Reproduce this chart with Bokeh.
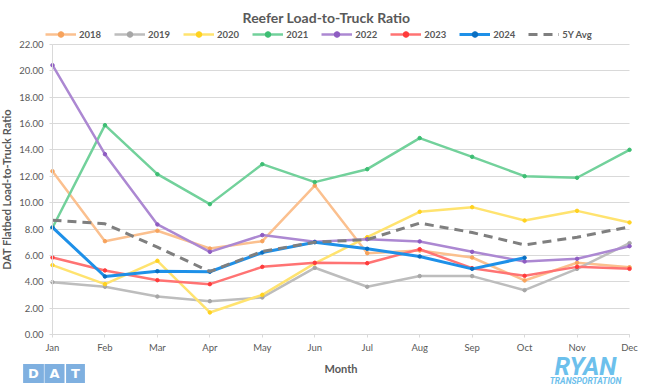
from bokeh.plotting import figure
from bokeh.models import (Range1d, FixedTicker, NumeralTickFormatter, Legend, LegendItem, Label)
from bokeh.embed import file_html
from bokeh.resources import INLINE

months = ["Jan", "Feb", "Mar", "Apr", "May", "Jun", "Jul", "Aug", "Sep", "Oct", "Nov", "Dec"]
y_ticks = [0, 2, 4, 6, 8, 10, 12, 14, 16, 18, 20, 22]

r2018 = [12.39, 7.08, 7.87, 6.52, 7.08, 11.30, 6.17, 6.37, 5.84, 4.10, 5.44, 5.10]
r2019 = [3.97, 3.62, 2.88, 2.53, 2.81, 5.06, 3.62, 4.43, 4.43, 3.36, 4.98, 6.93]
r2020 = [5.26, 3.82, 5.59, 1.67, 3.01, 5.40, 7.38, 9.31, 9.66, 8.65, 9.38, 8.50]
r2021 = [8.10, 15.88, 12.16, 9.89, 12.92, 11.56, 12.54, 14.90, 13.48, 12.01, 11.89, 14.01]
r2022 = [20.43, 13.68, 8.35, 6.27, 7.54, 7.03, 7.23, 7.06, 6.27, 5.54, 5.74, 6.70]
r2023 = [5.84, 4.86, 4.12, 3.82, 5.13, 5.44, 5.41, 6.47, 5.03, 4.45, 5.13, 4.98]
r2024 = [8.12, 4.40, 4.80, 4.76, 6.22, 7.00, 6.50, 5.92, 4.98, 5.82]
avg5y = [8.67, 8.40, 6.62, 4.78, 6.30, 7.00, 7.20, 8.45, 7.74, 6.80, 7.38, 8.17]

series = [
    ("2018", r2018, "#FBC08F", "#F7A35C"),
    ("2019", r2019, "#BDBDBD", "#A6A6A6"),
    ("2020", r2020, "#FFE36F", "#FFD21F"),
    ("2021", r2021, "#72D19B", "#3DBE73"),
    ("2022", r2022, "#AC88D2", "#8E5CC2"),
    ("2023", r2023, "#FF7373", "#FF3B3B"),
]

FONT = "Lato"
TXT = "#595959"

# frame covers the whole figure; axes are pinned at x=0 / y=0
p = figure(width=650, height=390, output_backend="svg", toolbar_location=None,
           x_range=Range1d(-0.991, 11.40), y_range=Range1d(-4.249, 25.338),
           min_border_left=0, min_border_right=0, min_border_top=0, min_border_bottom=0,
           background_fill_color="white", border_fill_color="white")
p.outline_line_color = None
p.xgrid.grid_line_color = None
p.ygrid.grid_line_color = "#D9D9D9"
p.ygrid.ticker = FixedTicker(ticks=y_ticks)
p.ygrid.cross_bounds = (0, 11)

p.xaxis.fixed_location = 0
p.yaxis.fixed_location = 0
p.xaxis.bounds = (0, 11)
p.yaxis.bounds = (0, 22)

p.yaxis.ticker = FixedTicker(ticks=y_ticks)
p.yaxis.formatter = NumeralTickFormatter(format="0.00")
p.xaxis.ticker = FixedTicker(ticks=list(range(12)))
p.xaxis.major_label_overrides = {i: m for i, m in enumerate(months)}

for ax in (p.xaxis[0], p.yaxis[0]):
    ax.axis_line_color = "#D9D9D9"
    ax.major_tick_line_color = "#D9D9D9"
    ax.minor_tick_line_color = None
    ax.major_tick_in = 0
    ax.major_tick_out = 3
    ax.major_label_text_font = FONT
    ax.major_label_text_font_size = "9.5px"
    ax.major_label_text_color = TXT
    ax.axis_label_text_font = FONT
    ax.axis_label_text_font_style = "bold"
    ax.axis_label_text_color = TXT
    ax.axis_label_text_font_size = "11px"

p.xaxis.axis_label = "Month"
p.xaxis.major_label_standoff = 5
p.xaxis.axis_label_standoff = 5
p.yaxis.axis_label = "DAT Flatbed Load-to-Truck Ratio"
p.yaxis.major_label_standoff = 6
p.yaxis.axis_label_standoff = 3

items = []
for name, vals, lc, mc in series:
    xs = list(range(len(vals)))
    r = p.line(xs, vals, line_color=lc, line_width=2.5)
    s = p.scatter(xs, vals, marker="circle", size=3.5, fill_color=mc, line_color=mc)
    items.append(LegendItem(label=name, renderers=[r, s]))

xs24 = list(range(len(r2024)))
r = p.line(xs24, r2024, line_color="#1E90E8", line_width=3)
s = p.scatter(xs24, r2024, marker="circle", size=3.5, fill_color="#0A6FC2", line_color="#0A6FC2")
items.append(LegendItem(label="2024", renderers=[r, s]))

ra = p.line(list(range(12)), avg5y, line_color="#7F7F7F", line_width=3, line_dash="9 6")
items.append(LegendItem(label="5Y Avg", renderers=[ra]))

legend = Legend(items=items, orientation="horizontal", location=(45, 349),
                glyph_width=31, glyph_height=14, label_standoff=3, spacing=13,
                padding=0, margin=0, border_line_color=None, background_fill_alpha=0,
                label_text_font=FONT, label_text_font_size="9.5px", label_height=14,
                label_text_font_style="bold", label_text_color=TXT)
p.add_layout(legend)

p.add_layout(Label(x=326, y=373, x_units="screen", y_units="screen",
                   text="Reefer Load-to-Truck Ratio", text_align="center", text_baseline="middle",
                   text_font=FONT, text_font_size="14px", text_font_style="bold", text_color=TXT))

# DAT logo
for i, ch in enumerate("DAT"):
    p.add_layout(Label(x=33 + 21 * i, y=17, x_units="screen", y_units="screen",
                       text=ch, text_align="center", text_baseline="middle",
                       text_font="DejaVu Sans", text_font_size="13px", text_font_style="bold",
                       text_color="white", background_fill_color="#7FB0E0",
                       padding=(5, 2)))

# Ryan Transportation logo
p.add_layout(Label(x=585, y=24, x_units="screen", y_units="screen",
                   text="RYAN", text_align="center", text_baseline="middle",
                   text_font="Roboto", text_font_size="25px", text_font_style="bold italic",
                   text_color="#6CC0EC"))
p.add_layout(Label(x=585, y=10, x_units="screen", y_units="screen",
                   text="TRANSPORTATION", text_align="center", text_baseline="middle",
                   text_font="Roboto", text_font_size="8.5px", text_font_style="bold italic",
                   text_color="#6CC0EC"))

open("out.html", "w").write(file_html(p, INLINE))
